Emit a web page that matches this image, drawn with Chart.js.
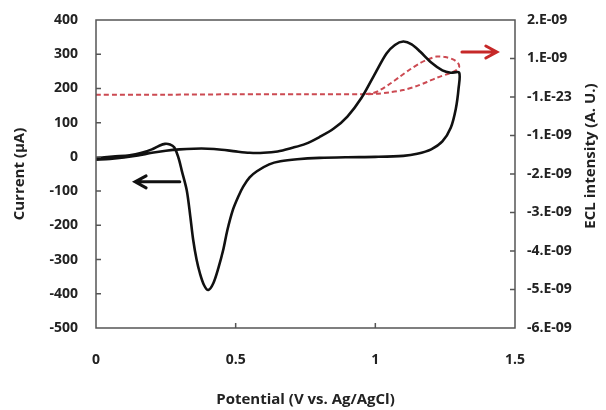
<!DOCTYPE html>
<html>
<head>
<meta charset="utf-8">
<script src="https://cdn.jsdelivr.net/npm/chart.js@4/dist/chart.umd.min.js"></script>
<style>
  html, body { margin: 0; padding: 0; background: #fff; }
  #wrap { width: 606px; height: 410px; }
</style>
</head>
<body>
<div id="wrap"><canvas id="cvChart" width="606" height="410"></canvas></div>
<script>
// CV curve (black), forward scan 0 -> 1.3 V then reverse back to 0 V
const cvPotential = [0, 0.05, 0.1, 0.15, 0.2, 0.25, 0.3, 0.35, 0.4, 0.45, 0.5, 0.55, 0.6, 0.65, 0.7, 0.75, 0.8, 0.85, 0.9, 0.95,
  1.0, 1.04, 1.07, 1.1, 1.13, 1.16, 1.2, 1.24, 1.27, 1.3,
  1.298, 1.288, 1.27, 1.24, 1.2, 1.15, 1.1, 1.0, 0.9, 0.8, 0.72, 0.66, 0.62, 0.576, 0.55, 0.527, 0.51, 0.49, 0.47, 0.456,
  0.438, 0.42, 0.402, 0.387, 0.372, 0.36, 0.348, 0.337, 0.325, 0.307, 0.298, 0.29, 0.28, 0.265, 0.247, 0.225, 0.2, 0.16, 0.12, 0.06, 0];
const cvCurrent = [-8, -6, -2, 4, 12, 18, 22, 24, 24, 21, 16, 12, 12, 16, 26, 38, 58, 82, 118, 172,
  245, 302, 327, 337, 329, 308, 276, 253, 246, 246,
  200, 140, 85, 45, 22, 9, 3, 0, -1, -3, -7, -13, -22, -42, -60, -87, -115, -155, -215, -270,
  -325, -369, -389, -375, -340, -300, -243, -170, -98, -40, -10, 10, 28, 36, 38, 32, 22, 11, 5, 1, -4];

// ECL signal (red dashed), in units of 1E-09
const eclPotential = [0, 0.25, 0.5, 0.75, 0.95, 1.0, 1.05, 1.1, 1.15, 1.185, 1.22, 1.267, 1.29, 1.3,
  1.296, 1.28, 1.25, 1.22, 1.19, 1.16, 1.125, 1.088, 1.05, 1.017, 0.99, 0.95];
const eclIntensity = [0.06, 0.06, 0.07, 0.07, 0.07, 0.08, 0.12, 0.18, 0.29, 0.39, 0.5, 0.62, 0.7, 0.78,
  0.88, 0.97, 1.04, 1.05, 0.98, 0.88, 0.72, 0.53, 0.33, 0.18, 0.1, 0.07];

const xTickLabels = ['0', '0.5', '1', '1.5'];
const leftTickLabels = ['400', '300', '200', '100', '0', '-100', '-200', '-300', '-400', '-500'];
const rightTickLabels = ['2.E-09', '1.E-09', '-1.E-23', '-1.E-09', '-2.E-09', '-3.E-09', '-4.E-09', '-5.E-09', '-6.E-09'];

// direction arrows, data units
const arrows = [
  { from: [0.30, -73], to: [0.14, -73], axis: 'y', color: '#111' },
  { from: [1.31, 1.17], to: [1.435, 1.17], axis: 'y2', color: '#c62828' }
];

const tickFont = { family: 'Open Sans', size: 14, weight: 'bold' };
const titleFont = { family: 'Open Sans', size: 15, weight: 'bold' };

// box, inward tick marks, right title, arrows
const framePlugin = {
  id: 'frame',
  afterDatasetsDraw(chart) {
    const { ctx, chartArea: a, scales } = chart;
    ctx.save();
    ctx.strokeStyle = '#555';
    ctx.lineWidth = 1.5;
    ctx.strokeRect(a.left, a.top, a.right - a.left, a.bottom - a.top);
    ctx.beginPath();
    [0.5, 1].forEach(v => {
      const px = scales.x.getPixelForValue(v);
      ctx.moveTo(px, a.bottom); ctx.lineTo(px, a.bottom - 5);
    });
    for (let v = -400; v <= 300; v += 100) {
      const py = scales.y.getPixelForValue(v);
      ctx.moveTo(a.left, py); ctx.lineTo(a.left + 5, py);
    }
    for (let v = -5; v <= 1; v += 1) {
      const py = scales.y2.getPixelForValue(v);
      ctx.moveTo(a.right, py); ctx.lineTo(a.right - 5, py);
    }
    ctx.stroke();

    arrows.forEach(ar => {
      const x1 = scales.x.getPixelForValue(ar.from[0]), y1 = scales[ar.axis].getPixelForValue(ar.from[1]);
      const x2 = scales.x.getPixelForValue(ar.to[0]), y2 = scales[ar.axis].getPixelForValue(ar.to[1]);
      const dir = Math.sign(x2 - x1);
      ctx.strokeStyle = ar.color;
      ctx.lineWidth = 3;
      ctx.lineCap = 'round';
      ctx.beginPath();
      ctx.moveTo(x1, y1); ctx.lineTo(x2, y2);
      ctx.moveTo(x2 - dir * 11, y2 - 6); ctx.lineTo(x2, y2); ctx.lineTo(x2 - dir * 11, y2 + 6);
      ctx.stroke();
    });

    ctx.fillStyle = '#222';
    ctx.font = 'bold 15px "Open Sans"';
    ctx.textAlign = 'center';
    ctx.textBaseline = 'middle';
    ctx.translate(591, 156);
    ctx.rotate(-Math.PI / 2);
    ctx.fillText('ECL intensity (A. U.)', 0, 0);
    ctx.restore();
  }
};

// fixed box sizes so the plot area lands where the original has it
const fixSize = (w, h) => s => {
  if (w) s.width = w;
  if (h) s.height = h;
  s.paddingTop = 0; s.paddingBottom = 0; s.paddingLeft = 0; s.paddingRight = 0;
};

new Chart(document.getElementById('cvChart').getContext('2d'), {
  type: 'scatter',
  data: {
    datasets: [
      {
        label: 'CV',
        data: cvPotential.map((x, i) => ({ x, y: cvCurrent[i] })),
        showLine: true, borderColor: '#111', borderWidth: 2.6, pointRadius: 0,
        tension: 0.3, yAxisID: 'y', order: 0
      },
      {
        label: 'ECL',
        data: eclPotential.map((x, i) => ({ x, y: eclIntensity[i] })),
        showLine: true, borderColor: '#cc4a52', borderWidth: 2, borderDash: [5, 3], pointRadius: 0,
        tension: 0.3, yAxisID: 'y2', order: 1
      }
    ]
  },
  options: {
    responsive: false,
    animation: false,
    layout: { padding: { top: 20, left: 0, right: 0, bottom: 0 } },
    plugins: { legend: { display: false }, tooltip: { enabled: false } },
    scales: {
      x: {
        type: 'linear', min: 0, max: 1.5,
        grid: { display: false, drawTicks: false }, border: { display: false },
        ticks: { stepSize: 0.5, padding: 24, color: '#222', font: tickFont, callback: (v, i) => xTickLabels[i] },
        title: { display: true, text: 'Potential (V vs. Ag/AgCl)', color: '#222', font: titleFont, padding: { top: 0, bottom: 1 } },
        afterFit: fixSize(0, 82)
      },
      y: {
        position: 'left', min: -500, max: 400,
        grid: { display: false, drawTicks: false }, border: { display: false },
        ticks: { stepSize: 100, padding: 18, color: '#222', font: tickFont, callback: (v, i, t) => leftTickLabels[t.length - 1 - i] },
        title: { display: true, text: 'Current (μA)', color: '#222', font: titleFont, padding: { top: 11, bottom: 0 } },
        afterFit: fixSize(96, 0)
      },
      y2: {
        position: 'right', min: -6, max: 2,
        grid: { display: false, drawTicks: false }, border: { display: false },
        ticks: { stepSize: 1, padding: 12, color: '#222', font: tickFont, callback: (v, i, t) => rightTickLabels[t.length - 1 - i] },
        afterFit: fixSize(91, 0)
      }
    }
  },
  plugins: [framePlugin]
});
</script>
</body>
</html>
